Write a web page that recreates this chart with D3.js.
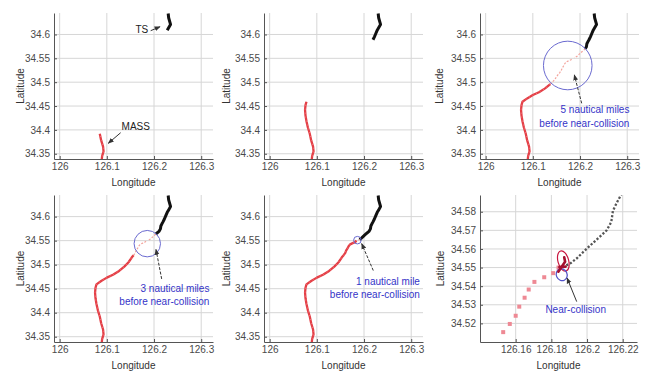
<!DOCTYPE html>
<html>
<head>
<meta charset="utf-8">
<script src="https://cdn.jsdelivr.net/npm/d3@7"></script>
<style>
  body { margin: 0; background: #fff; }
  svg { display: block; font-family: "Liberation Sans", Arial, sans-serif; }
</style>
</head>
<body>
<svg id="chart" width="651" height="373"></svg>
<script>
// MASS track (lon, lat), south to north-east
const massTrack = [
  [126.089, 34.336], [126.090, 34.345], [126.093, 34.355], [126.092, 34.365],
  [126.088, 34.378], [126.085, 34.392], [126.081, 34.405], [126.078, 34.418],
  [126.076, 34.430], [126.075, 34.442], [126.076, 34.452], [126.078, 34.459],
  [126.088, 34.466], [126.100, 34.473], [126.113, 34.479], [126.126, 34.487],
  [126.137, 34.496], [126.146, 34.505], [126.153, 34.5153], [126.1567, 34.5197],
  [126.160, 34.5241], [126.162, 34.529], [126.165, 34.5338], [126.1673, 34.5382],
  [126.1705, 34.5423], [126.176, 34.5448], [126.181, 34.547], [126.184, 34.550]
];
// TS track (lon, lat), north to south-west
const tsTrack = [
  [126.230, 34.644], [126.231, 34.635], [126.233, 34.628], [126.235, 34.621],
  [126.231, 34.614], [126.228, 34.609], [126.225, 34.602], [126.222, 34.595],
  [126.219, 34.589], [126.2165, 34.5845], [126.2145, 34.5805], [126.2136, 34.5745],
  [126.211, 34.570], [126.208, 34.5673], [126.2035, 34.5634], [126.199, 34.5594],
  [126.1943, 34.555], [126.1907, 34.5523], [126.188, 34.551]
];
// last sample shown in each snapshot
const massEndIdx = [5, 11, 16, 19, 27, 27];
const tsEndIdx = [5, 8, 12, 14, 17, 18];

// manoeuvre near the collision point (zoomed panel)
const nearMass = [[126.1839, 34.5478], [126.1877, 34.5532], [126.1872, 34.5555]];
const nearMass2 = [[126.1845, 34.5503], [126.1880, 34.5505]];

// circles between the ships: lon, lat, radius (deg)
const rangeCircles = [null, null, [126.174, 34.535, 0.0515], [126.1857, 34.5437, 0.028], [126.186, 34.551, 0.008], null];
// ship-domain ellipses in zoomed panel: lon, lat, rx, ry, rotation
const redEllipse = [126.1867, 34.5535, 0.0030, 0.0056, -15];
const blueEllipse = [126.1858, 34.5462, 0.0030, 0.0033, -25];

const xTicksWide = [126, 126.1, 126.2, 126.3];
const yTicksWide = [34.35, 34.4, 34.45, 34.5, 34.55, 34.6];
const xTicksZoom = [126.16, 126.18, 126.2, 126.22];
const yTicksZoom = [34.52, 34.53, 34.54, 34.55, 34.56, 34.57, 34.58];
const lonWide = [125.988, 126.325], latWide = [34.339, 34.645];
const lonZoom = [126.14, 126.228], latZoom = [34.51, 34.589];

// notes: panel, text lines, text anchor point (right end of baseline), arrow from, arrow to
const notePanels = [0, 0, 2, 3, 4, 5];
const noteLines = [
  ['TS'], ['MASS'],
  ['5 nautical miles', 'before near-collision'],
  ['3 nautical miles', 'before near-collision'],
  ['1 nautical mile', 'before near-collision'],
  ['Near-collision']
];
const noteAt = [[126.1878, 34.603], [126.1914, 34.4008], [126.3047, 34.4354], [126.3174, 34.4437], [126.3185, 34.4584], [126.2106, 34.5256]];
const arrowFrom = [[126.1929, 34.6079], [126.1293, 34.3941], [126.2035, 34.4557], [126.2162, 34.4703], [126.2196, 34.4878], [126.1942, 34.5317]];
const arrowTo = [[126.2127, 34.6163], [126.1030, 34.3719], [126.1879, 34.5152], [126.2041, 34.5319], [126.1950, 34.5438], [126.1888, 34.5444]];

const panels = [
  { left: 54, top: 13, w: 159, h: 146, ylab: 34 },
  { left: 264, top: 13, w: 159, h: 146, ylab: 38 },
  { left: 480, top: 13, w: 159, h: 146, ylab: 41 },
  { left: 54, top: 195, w: 159, h: 147, ylab: 34 },
  { left: 264, top: 195, w: 159, h: 147, ylab: 38 },
  { left: 480, top: 195, w: 157, h: 147, ylab: 40 }
];

const svg = d3.select('#chart');
const defs = svg.append('defs');
defs.append('marker')
  .attr('id', 'arrowhead')
  .attr('viewBox', '0 0 10 10')
  .attr('refX', 9).attr('refY', 5)
  .attr('markerWidth', 6).attr('markerHeight', 6)
  .attr('markerUnits', 'userSpaceOnUse')
  .attr('orient', 'auto')
  .append('path').attr('d', 'M0,1L10,5L0,9Z').attr('fill', '#333');

panels.forEach((p, i) => {
  const zoomed = i === 5;
  const x = d3.scaleLinear().domain(zoomed ? lonZoom : lonWide).range([p.left, p.left + p.w]);
  const y = d3.scaleLinear().domain(zoomed ? latZoom : latWide).range([p.top + p.h, p.top]);
  const xt = zoomed ? xTicksZoom : xTicksWide;
  const yt = zoomed ? yTicksZoom : yTicksWide;
  const g = svg.append('g');

  defs.append('clipPath').attr('id', 'clip' + i)
    .append('rect').attr('x', p.left).attr('y', p.top).attr('width', p.w).attr('height', p.h);

  // grid
  g.selectAll('.vg').data(xt).join('line')
    .attr('x1', d => x(d)).attr('x2', d => x(d))
    .attr('y1', p.top).attr('y2', p.top + p.h)
    .attr('stroke', '#d6d6d6').attr('stroke-width', 1);
  g.selectAll('.hg').data(yt).join('line')
    .attr('x1', p.left).attr('x2', p.left + p.w)
    .attr('y1', d => y(d)).attr('y2', d => y(d))
    .attr('stroke', '#d6d6d6').attr('stroke-width', 1);

  // axes
  const ax = g.append('g').attr('transform', `translate(0,${p.top + p.h})`)
    .call(d3.axisBottom(x).tickValues(xt).tickFormat(d => String(d)).tickSizeInner(-3).tickSizeOuter(0).tickPadding(4));
  const ay = g.append('g').attr('transform', `translate(${p.left},0)`)
    .call(d3.axisLeft(y).tickValues(yt).tickFormat(d => String(d)).tickSizeInner(-3).tickSizeOuter(0).tickPadding(4));
  [ax, ay].forEach(a => {
    a.select('.domain').attr('stroke', '#555');
    a.selectAll('.tick line').attr('stroke', '#555');
    a.selectAll('text').attr('fill', '#4a4a4a').style('font-size', '10px').style('font-family', '"Liberation Sans", Arial, sans-serif');
  });

  g.append('text')
    .attr('x', p.left + p.w / 2).attr('y', p.top + p.h + 27)
    .attr('text-anchor', 'middle').attr('fill', '#333').style('font-size', '10px')
    .text('Longitude');
  g.append('text')
    .attr('transform', `translate(${p.left - p.ylab},${p.top + p.h / 2}) rotate(-90)`)
    .attr('text-anchor', 'middle').attr('dy', '0.35em').attr('fill', '#333').style('font-size', '10px')
    .text('Latitude');

  const plot = g.append('g').attr('clip-path', `url(#clip${i})`);
  const line = d3.line().x(d => x(d[0])).y(d => y(d[1]));

  if (!zoomed) {
    if (i >= 2) {
      // remaining path of both ships, faded
      [massTrack.slice(massEndIdx[i]), tsTrack.slice(tsEndIdx[i])].forEach(seg => {
        plot.append('path').datum(seg).attr('d', line)
          .attr('fill', 'none').attr('stroke', '#f3a39b').attr('stroke-width', 1.2)
          .attr('stroke-dasharray', '2,1.5');
      });
    }
    plot.append('path').datum(massTrack.slice(0, massEndIdx[i] + 1)).attr('d', line)
      .attr('fill', 'none').attr('stroke', '#e43f46').attr('stroke-width', 2.3)
      .attr('stroke-linejoin', 'round');
    plot.append('path').datum(massTrack.slice(0, massEndIdx[i] + 1)).attr('d', line)
      .attr('fill', 'none').attr('stroke', '#f07a80').attr('stroke-width', 1)
      .attr('stroke-dasharray', '1,3');
    plot.append('path').datum(tsTrack.slice(0, tsEndIdx[i] + 1)).attr('d', line)
      .attr('fill', 'none').attr('stroke', '#111').attr('stroke-width', 3)
      .attr('stroke-linejoin', 'round');
  } else {
    plot.append('path').datum(tsTrack).attr('d', line)
      .attr('fill', 'none').attr('stroke', '#555').attr('stroke-width', 2.3)
      .attr('stroke-dasharray', '2.2,1.8');
    plot.selectAll('.mk').data(massTrack).join('rect')
      .attr('x', d => x(d[0]) - 2).attr('y', d => y(d[1]) - 2)
      .attr('width', 4).attr('height', 4)
      .attr('fill', '#ee8994');
    [[redEllipse, '#c8163f'], [blueEllipse, '#5252c8']].forEach(([e, col]) => {
      plot.append('ellipse')
        .attr('cx', x(e[0])).attr('cy', y(e[1]))
        .attr('rx', x(e[0] + e[2]) - x(e[0])).attr('ry', y(e[1]) - y(e[1] + e[3]))
        .attr('transform', `rotate(${e[4]},${x(e[0])},${y(e[1])})`)
        .attr('fill', 'none').attr('stroke', col).attr('stroke-width', 1.2);
    });
    [nearMass, nearMass2].forEach(seg => {
      plot.append('path').datum(seg).attr('d', line)
        .attr('fill', 'none').attr('stroke', '#a3102f').attr('stroke-width', 2.6)
        .attr('stroke-linecap', 'round');
    });
  }

  const c = rangeCircles[i];
  if (c) {
    plot.append('circle')
      .attr('cx', x(c[0])).attr('cy', y(c[1]))
      .attr('r', x(c[0] + c[2]) - x(c[0]))
      .attr('fill', 'none').attr('stroke', '#6a6ad0').attr('stroke-width', 1);
  }

  // annotations
  notePanels.forEach((pi, k) => {
    if (pi !== i) return;
    const blue = k >= 2;
    g.append('line')
      .attr('x1', x(arrowFrom[k][0])).attr('y1', y(arrowFrom[k][1]))
      .attr('x2', x(arrowTo[k][0])).attr('y2', y(arrowTo[k][1]))
      .attr('stroke', '#333').attr('stroke-width', 1)
      .attr('stroke-dasharray', (k >= 2 && k <= 4) ? '3,1.5' : null)
      .attr('marker-end', 'url(#arrowhead)');
    const t = g.append('text')
      .attr('x', x(noteAt[k][0])).attr('y', y(noteAt[k][1]))
      .attr('text-anchor', 'end')
      .attr('fill', blue ? '#3434c8' : '#222')
      .style('font-size', '10px');
    noteLines[k].forEach((s, j) => {
      t.append('tspan').attr('x', x(noteAt[k][0])).attr('dy', j === 0 ? 0 : 13.5).text(s);
    });
  });
});
</script>
</body>
</html>
